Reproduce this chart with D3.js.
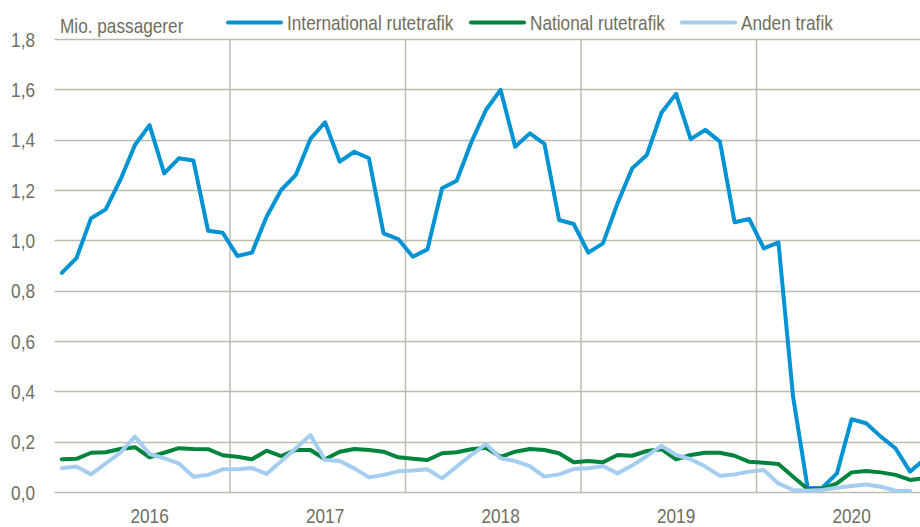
<!DOCTYPE html>
<html><head><meta charset="utf-8">
<script src="https://cdn.jsdelivr.net/npm/d3@7"></script>
<style>
html,body{margin:0;padding:0;background:#fff;}
svg text{font-family:'Liberation Sans',Arial,sans-serif;fill:#6f6e60;}
</style></head>
<body><svg id="chart" width="920" height="527"></svg>
<script>
const years = ["2016","2017","2018","2019","2020"];
const yTicks = [0,0.2,0.4,0.6,0.8,1.0,1.2,1.4,1.6,1.8];
const seriesNames = ["International rutetrafik","National rutetrafik","Anden trafik"];
const seriesColors = ["#0093d4","#00843d","#a4cdf0"];
const yTitle = "Mio. passagerer";

const international = [
 0.871,0.929,1.088,1.123,1.240,1.379,1.458,1.266,1.326,1.317,1.038,1.030,
 0.938,0.951,1.094,1.200,1.260,1.403,1.469,1.313,1.352,1.326,1.028,1.005,
 0.935,0.964,1.207,1.237,1.390,1.518,1.598,1.372,1.425,1.383,1.081,1.065,
 0.951,0.988,1.147,1.286,1.339,1.507,1.582,1.402,1.439,1.392,1.072,1.085,
 0.968,0.992,0.379,0.015,0.017,0.074,0.289,0.273,0.220,0.174,0.081,0.130];
const national = [
 0.130,0.132,0.156,0.158,0.171,0.178,0.138,0.156,0.174,0.171,0.170,0.146,
 0.140,0.130,0.164,0.143,0.167,0.167,0.130,0.160,0.171,0.167,0.160,0.138,
 0.132,0.127,0.154,0.158,0.170,0.176,0.140,0.160,0.171,0.167,0.154,0.118,
 0.123,0.118,0.147,0.144,0.163,0.170,0.130,0.147,0.156,0.156,0.144,0.120,
 0.116,0.111,0.061,0.012,0.012,0.034,0.078,0.083,0.078,0.068,0.048,0.055];
const anden = [
 0.094,0.101,0.070,0.114,0.156,0.220,0.151,0.134,0.114,0.061,0.068,0.090,
 0.090,0.095,0.072,0.122,0.174,0.226,0.127,0.123,0.094,0.058,0.068,0.082,
 0.085,0.090,0.054,0.101,0.147,0.190,0.134,0.123,0.103,0.061,0.070,0.091,
 0.094,0.103,0.074,0.105,0.143,0.184,0.147,0.130,0.101,0.064,0.070,0.081,
 0.087,0.034,0.008,0.005,0.008,0.017,0.024,0.030,0.021,0.005,0.004,null];

const svg = d3.select("#chart");
const W = 920, H = 527;
const nMonths = years.length * 12;
const x = d3.scaleLinear().domain([0, nMonths]).range([54.5, 932]);
const y = d3.scaleLinear().domain([0, 1.8]).range([492, 39]);
const grid = "#bdbbae";
const SX = 0.82; // narrow-font emulation

function label(g, tx, ty, txt, anchor) {
  return g.append("text")
    .attr("transform", `translate(${tx},${ty}) scale(${SX},1)`)
    .attr("text-anchor", anchor || "start").attr("font-size", 21).text(txt);
}

// horizontal gridlines
svg.append("g").selectAll("line").data(yTicks).join("line")
  .attr("x1", x(0)).attr("x2", W)
  .attr("y1", d => Math.round(y(d)) + 0.5).attr("y2", d => Math.round(y(d)) + 0.5)
  .attr("stroke", grid).attr("stroke-width", 1.5);
// vertical year gridlines
svg.append("g").selectAll("line").data(d3.range(1, years.length)).join("line")
  .attr("x1", d => x(d * 12)).attr("x2", d => x(d * 12))
  .attr("y1", y(1.8)).attr("y2", y(0))
  .attr("stroke", grid).attr("stroke-width", 1.5);

// y tick labels
const fmt = d => d3.format(".1f")(d).replace(".", ",");
const gy = svg.append("g");
yTicks.forEach(d => label(gy, 35, y(d) + 7.5, fmt(d), "end"));

// year labels
const gx = svg.append("g");
years.forEach((d, i) => label(gx, x(i * 12 + 6.5), 523, d, "middle"));

// y title
label(svg, 60, 33, yTitle);

// lines
const line = d3.line().defined(d => d != null)
  .x((d, i) => x(i + 0.5)).y(d => y(d));
[international, national, anden].forEach((s, k) => {
  svg.append("path").datum(s).attr("d", line)
    .attr("fill", "none").attr("stroke", seriesColors[k])
    .attr("stroke-width", 4).attr("stroke-linejoin", "round").attr("stroke-linecap", "round");
});

// legend
const legX = [228, 471, 682];
seriesNames.forEach((n, k) => {
  svg.append("line").attr("x1", legX[k]).attr("x2", legX[k] + 53)
    .attr("y1", 22.5).attr("y2", 22.5)
    .attr("stroke", seriesColors[k]).attr("stroke-width", 4).attr("stroke-linecap", "round");
  label(svg, legX[k] + 59, 30, n);
});
</script></body></html>
